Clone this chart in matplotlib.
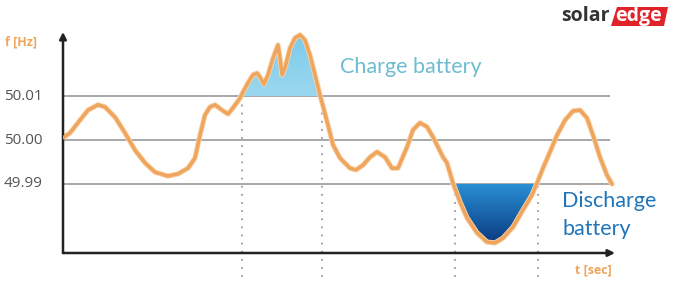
import matplotlib

matplotlib.use("Agg")
import matplotlib.pyplot as plt
import numpy as np
from matplotlib.colors import LinearSegmentedColormap
from matplotlib.patches import Polygon

# time in arbitrary units, frequency (Hz)
t = [0, 7, 17, 25, 35, 42, 52, 62, 72, 82, 92, 105, 115, 125, 132, 137, 142, 147,
     152, 159, 165, 170, 177, 180, 185, 190, 194, 197, 201, 205, 210, 215, 217, 219,
     222, 227, 232, 237, 242, 247, 252, 257, 260, 265, 270, 277, 287, 293, 300, 307,
     314, 322, 329, 335, 344, 350, 357, 364, 370, 380, 384, 390, 397, 404, 414, 424,
     432, 440, 450, 460, 469, 474, 480, 487, 494, 502, 510, 517, 524, 530, 537, 544, 549]
freq = [50.0005, 50.0016, 50.0045, 50.0068, 50.0080, 50.0075, 50.0052, 50.0016,
        49.9977, 49.9948, 49.9927, 49.9918, 49.9923, 49.9936, 49.9959, 50.0011,
        50.0057, 50.0075, 50.0080, 50.0068, 50.0059, 50.0073, 50.0095, 50.0109,
        50.0130, 50.0148, 50.0152, 50.0143, 50.0127, 50.0148, 50.0186, 50.0216,
        50.0186, 50.0148, 50.0164, 50.0209, 50.0232, 50.0239, 50.0227, 50.0193,
        50.0148, 50.0102, 50.0077, 50.0034, 49.9989, 49.9959, 49.9936, 49.9932,
        49.9943, 49.9961, 49.9973, 49.9961, 49.9936, 49.9936, 49.9984, 50.0023,
        50.0039, 50.0030, 50.0007, 49.9961, 49.9948, 49.9902, 49.9859, 49.9823,
        49.9789, 49.9768, 49.9766, 49.9777, 49.9802, 49.9841, 49.9875, 49.9902,
        49.9936, 49.9973, 50.0011, 50.0045, 50.0066, 50.0068, 50.0050, 50.0011,
        49.9961, 49.9920, 49.9900]

grid_levels = [50.01, 50.00, 49.99]
grid_labels = ["50.01", "50.00", "49.99"]
upper_limit = 50.01
lower_limit = 49.99
charge_crossings = [179, 259]
discharge_crossings = [392, 475]

ORANGE = "#f0a55c"
GRID = "#a8a8a8"

fig = plt.figure(figsize=(6.75, 2.85), dpi=100)
W, H = 675, 285
ax = fig.add_axes([63 / W, 1 - 253 / H, (615 - 63) / W, (253 - 32) / H])
ax.set_xlim(0, 552)
y_bottom = 50.0 + (140 - 253) / 4400
y_top = 50.0 + (140 - 32) / 4400
ax.set_ylim(y_bottom, y_top)
for s in ax.spines.values():
    s.set_visible(False)
ax.set_xticks([])
ax.set_yticks([])

# grid lines and labels
ax.hlines(grid_levels, 0, 547, color=GRID, lw=1.4, zorder=1)
for lev, lab in zip(grid_levels, grid_labels):
    ax.text(-20, lev, lab, ha="right", va="center", fontsize=11,
            color="#555555", family="Open Sans")

tt = np.array(t, dtype=float)
ff = np.array(freq)


def gradient_fill(where, base, c_top, c_bottom, y0, y1):
    poly = ax.fill_between(tt, ff, base, where=where, interpolate=True,
                           facecolor="none", edgecolor="none")
    cmap = LinearSegmentedColormap.from_list("g", [c_bottom, c_top])
    grad = np.linspace(0, 1, 256).reshape(-1, 1)
    im = ax.imshow(grad, cmap=cmap, aspect="auto", origin="lower",
                   extent=[0, 552, y0, y1], zorder=2)
    im.set_clip_path(poly.get_paths()[0], transform=ax.transData)
    return im


gradient_fill(ff >= upper_limit, upper_limit, "#7ccaea", "#9bd8ef",
              upper_limit, max(freq))
gradient_fill(ff <= lower_limit, lower_limit, "#2a8fd4", "#0a3a80",
              min(freq), lower_limit)
ax.set_xlim(0, 552)
ax.set_ylim(y_bottom, y_top)

# dotted markers
y_low = 50.0 + (140 - 277) / 4400
ax.vlines(charge_crossings, y_low, upper_limit, colors="#9a9a9a",
          linestyles=(0, (1, 3.5)), lw=1.3, clip_on=False, zorder=1)
ax.vlines(discharge_crossings, y_low, lower_limit, colors="#9a9a9a",
          linestyles=(0, (1, 3.5)), lw=1.3, clip_on=False, zorder=1)

# frequency curve
ax.plot(tt, ff, color="#f8d3ad", lw=3.8, solid_capstyle="round",
        solid_joinstyle="round", zorder=3)
ax.plot(tt, ff, color=ORANGE, lw=2.5, solid_capstyle="round",
        solid_joinstyle="round", zorder=4)

# axes with arrows
ax.annotate("", xy=(0, 1.0), xytext=(0, 0), xycoords="axes fraction",
            arrowprops=dict(arrowstyle="-|>", color="#222222", lw=1.8,
                            mutation_scale=10, shrinkA=0, shrinkB=0))
ax.annotate("", xy=(1.0, 0), xytext=(0, 0), xycoords="axes fraction",
            arrowprops=dict(arrowstyle="-|>", color="#222222", lw=1.8,
                            mutation_scale=10, shrinkA=0, shrinkB=0))

# labels
fig.text(5 / W, 1 - 42 / H, "f [Hz]", color=ORANGE, fontsize=9,
         fontweight="bold", va="center", ha="left", family="Open Sans")
fig.text(612 / W, 1 - 270 / H, "t [sec]", color=ORANGE, fontsize=9,
         fontweight="bold", va="center", ha="right", family="Open Sans")
fig.text(340 / W, 1 - 67 / H, "Charge battery", color="#6dbccf",
         fontsize=15.5, va="center", ha="left", family="Lato")
fig.text(562 / W, 1 - 201 / H, "Discharge", color="#1f74ba",
         fontsize=15.5, va="center", ha="left", family="Lato")
fig.text(562 / W, 1 - 229 / H, "battery", color="#1f74ba",
         fontsize=15.5, va="center", ha="left", family="Lato")

# logo
logo = Polygon([[611 / W, 1 - 26 / H], [617 / W, 1 - 7 / H],
                [668 / W, 1 - 7 / H], [664 / W, 1 - 26 / H]],
               closed=True, transform=fig.transFigure, facecolor="#e0232b",
               edgecolor="none")
fig.patches.append(logo)
fig.text(610 / W, 1 - 16 / H, "solar", color="#333333", fontsize=14,
         fontweight="bold", va="center", ha="right", family="Open Sans")
fig.text(639 / W, 1 - 16 / H, "edge", color="white", fontsize=14,
         fontweight="bold", va="center", ha="center", family="Open Sans")

fig.savefig("out.png", dpi=100)
